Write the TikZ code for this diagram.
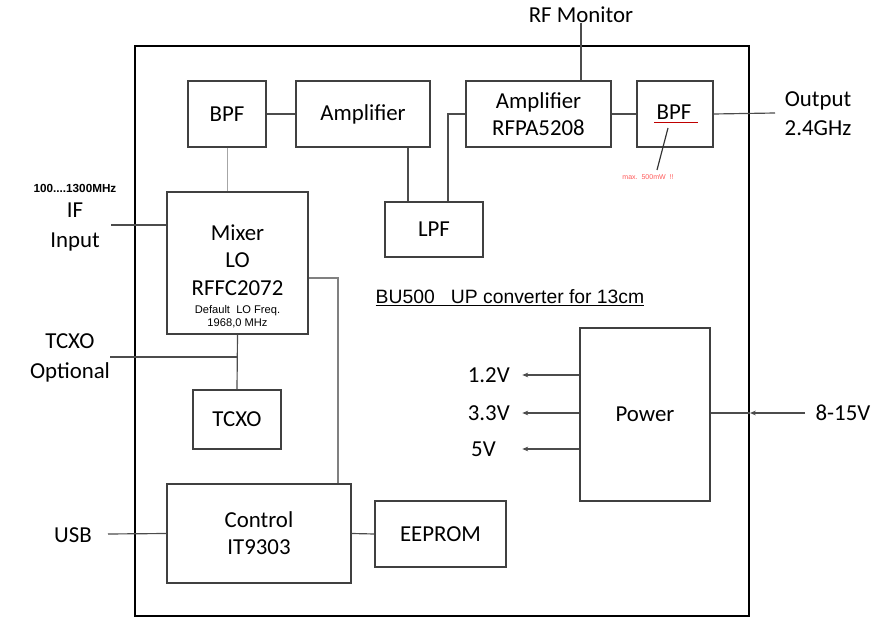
\documentclass[tikz,border=0pt]{standalone}
\usepackage{fontspec}
\setmainfont{Carlito}
\newfontfamily\arialfont{Liberation Sans}
\usetikzlibrary{arrows.meta, positioning, calc}

\begin{document}
\begin{tikzpicture}[
    x=0.03cm, y=-0.03cm,
    blk/.style 2 args={draw=black!75, line width=1.1pt, minimum width=#1*0.3mm, minimum height=#2*0.3mm, inner sep=0pt, align=center, font=\fontsize{19.5}{23}\selectfont},
    wire/.style={draw=black!70, line width=1pt},
    lbl/.style={font=\fontsize{19.5}{23}\selectfont, align=center, inner sep=0pt},
    small/.style={font=\arialfont\fontsize{9.5}{11}\selectfont, align=center, inner sep=0pt},
    volt/.style={wire, -{Stealth[length=5pt, width=4pt]}},
]
    \useasboundingbox (0,0) rectangle (882,620);

    % outer frame
    \draw[line width=2.4pt] (135,46) rectangle (749,616);

    % RF chain
    \node[blk={78}{66}] (bpfa) at (227,114) {BPF};
    \node[blk={134}{66}] (ampa) at (363,114) {Amplifier};
    \node[blk={145}{66}] (rfpa) at (538.5,114) {Amplifier\\RFPA5208};
    \node[blk={76}{66}] (bpfb) at (675,114) {};
    \node[lbl] (bpfbtxt) at (674,112) {BPF};
    \node[blk={98}{55}] (lpf) at (434,229.5) {LPF};

    % mixer and clock
    \node[blk={141}{142}] (mixer) at (237.5,263) {};
    \node[lbl, font=\fontsize{19.5}{23.4}\selectfont] (mixertxt) at (237.5,260) {Mixer\\LO\\RFFC2072};
    \node[small] (lofreq) at (237.5,317) {Default\ \ LO Freq.\\1968,0 MHz};
    \node[blk={88}{59}] (tcxo) at (237,419.5) {TCXO};

    % control and memory
    \node[blk={184}{99}] (ctrl) at (259,533.5) {Control\\IT9303};
    \node[blk={131}{66}] (eeprom) at (440.5,534) {EEPROM};

    % supply
    \node[blk={130}{173}] (power) at (645,414.5) {Power};

    % outside labels
    \node[lbl] (mon) at (581,15) {RF Monitor};
    \node[lbl, font=\fontsize{19.5}{25}\selectfont] (outlbl) at (818,114) {Output\\2.4GHz};
    \node[lbl, font=\arialfont\bfseries\fontsize{10}{12}\selectfont] (iffreq) at (75,188) {100....1300MHz};
    \node[lbl, font=\fontsize{19.5}{26}\selectfont] (iflbl) at (75,227) {IF\\Input};
    \node[lbl, font=\fontsize{19.5}{25}\selectfont] (tcxolbl) at (70,358) {TCXO\\Optional};
    \node[lbl] (usblbl) at (73,535) {USB};
    \node[lbl, anchor=east] (v12) at (510,375) {1.2V};
    \node[lbl, anchor=east] (v33) at (510,413) {3.3V};
    \node[lbl, anchor=east] (v5) at (496,449) {5V};
    \node[lbl] (vin) at (843,413) {8-15V};
    \node[lbl, font=\arialfont\fontsize{16.5}{19}\selectfont] (title) at (510,298) {\underline{BU500\ \ \ UP converter for 13cm}};
    \node[lbl, font=\arialfont\fontsize{6}{7}\selectfont, text=red!65] (maxnote) at (648,177) {max.\ \ 500mW \ !!};

    \coordinate (xa) at (408,0);
    \coordinate (xb) at (448,0);
    \coordinate (xm) at (581,0);
    \coordinate (mxr) at (338,278);
    \coordinate (ifin) at (111,225);
    \coordinate (tcin) at (110,357);
    \coordinate (usbin) at (108,534);
    \coordinate (outpt) at (775,113);
    \coordinate (pin) at (805,413);
    \coordinate (ptip) at (750,413);

    % connections
    \draw[wire] (bpfa.east) -- (ampa.west);
    \draw[draw=black!35, line width=0.8pt] (bpfa.south) -- (bpfa.south |- mixer.north);
    \draw[wire] (ampa.south -| xa) -- (lpf.north -| xa);
    \draw[wire] (lpf.north -| xb) |- (rfpa.west);
    \draw[wire] (rfpa.east) -- (bpfb.west);
    \draw[wire] (bpfb.east) -- (outpt);
    \draw[wire] (rfpa.north -| xm) -- (mon.south -| xm);
    \draw[wire] (ifin) -- (mixer.west |- ifin);
    \draw[wire, draw=black!50] (mixer.east |- mxr) -- (mxr) -- (ctrl.north -| mxr);
    \draw[wire] (mixer.south) -- (tcxo.north);
    \draw[wire] (tcin) -- (tcin -| tcxo.north);
    \draw[wire] (usbin) -- (ctrl.west);
    \draw[wire] (ctrl.east) -- (eeprom.west);

    % supply rails
    \draw[volt] (power.west |- v12) -- ($(power.west |- v12)+(-57,0)$);
    \draw[volt] (power.west |- v33) -- ($(power.west |- v33)+(-57,0)$);
    \draw[volt] (power.west |- v5) -- ($(power.west |- v5)+(-57,0)$);
    \draw[volt] (pin) -- (ptip);
    \draw[wire] (ptip) -- (power.east |- ptip);

    % red remark on output filter
    \draw[red!75!black, line width=1.6pt] (bpfbtxt.south west) ++(-2,3) -- ++(44,0);
    \draw[black!80, line width=1pt] (668,128) -- (657,170);
\end{tikzpicture}
\end{document}
